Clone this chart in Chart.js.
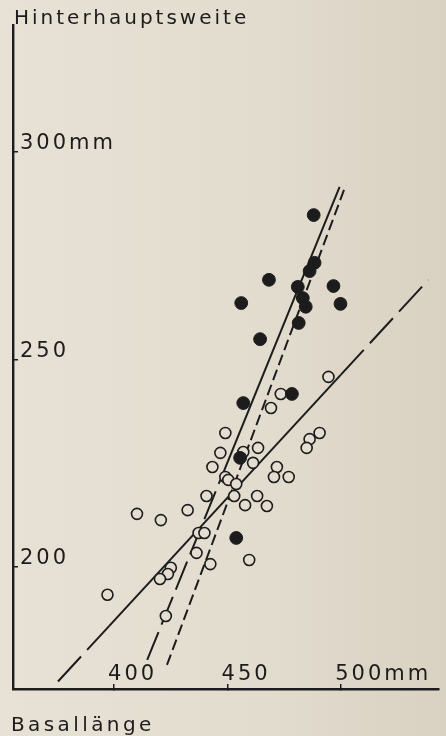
<!DOCTYPE html>
<html>
<head>
<meta charset="utf-8">
<script src="https://cdn.jsdelivr.net/npm/chart.js@4.4.1/dist/chart.umd.min.js"></script>
<style>
html, body { margin: 0; padding: 0; }
body {
    width: 446px; height: 736px; position: relative; overflow: hidden;
    background: linear-gradient(90deg, #e8e2d6 0%, #e2dccf 60%, #d9d1c1 100%);
}
#chart { position: absolute; left: 0; top: 0; }
.lbl {
    position: absolute; font-family: "DejaVu Sans", sans-serif; font-size: 20px;
    letter-spacing: 3px; color: #1c1c1c; line-height: 20px; white-space: nowrap;
}
</style>
</head>
<body>
<canvas id="chart" width="446" height="736"></canvas>
<div class="lbl" style="left:14px; top:7px">Hinterhauptsweite</div>
<div class="lbl" style="left:11px; top:714px; letter-spacing:3.4px">Basallänge</div>
<script>
// Werte (mm)
const xTicks = [400, 450, 500];
const yTicks = [200, 250, 300];

// gefüllte Kreise
const filledX = [487.9, 488.3, 486.1, 468.2, 456.0, 480.9, 483.1, 484.4, 496.6, 499.7, 481.3, 464.3, 478.3, 456.9, 455.5, 453.8];
const filledY = [284.8, 273.3, 271.3, 269.2, 263.6, 267.5, 264.8, 262.7, 267.7, 263.4, 258.8, 254.9, 241.7, 239.5, 226.3, 207.0];

// offene Kreise
const openX = [494.4, 473.4, 469.1, 449.0, 490.5, 486.1, 484.8, 463.4, 446.8, 456.9, 461.2, 443.3, 471.7, 449.0, 450.3, 470.4, 476.9, 453.8,
               452.9, 440.7, 463.0, 457.7, 467.3, 432.4, 410.1, 420.6, 437.2, 439.8, 436.3, 442.4, 459.5, 425.0, 423.7, 420.2, 397.1, 422.8];
const openY = [245.8, 241.7, 238.3, 232.3, 232.3, 230.8, 228.7, 228.7, 227.5, 227.7, 225.1, 224.1, 224.1, 221.7, 221.0, 221.7, 221.7, 220.0,
               217.1, 217.1, 217.1, 214.9, 214.7, 213.7, 212.8, 211.3, 208.2, 208.2, 203.4, 200.7, 201.7, 199.8, 198.3, 197.1, 193.3, 188.2];

// Geraden: Endpunkte und Grenzen des ausgezogenen Teils
const lineAX = [375.3, 397.9, 499.8, 538.4];
const lineAY = [172.4, 185.8, 246.3, 269.2];
const lineBX = [414.6, 446.8, 499.3];
const lineBY = [177.6, 221.0, 291.6];
const lineCX = [423.3, 501.4];
const lineCY = [176.4, 291.1];

const ink = '#1c1c1c';
const paper = '#e4ded2';

function pts(xs, ys) {
    return xs.map((x, i) => ({ x: x, y: ys[i] }));
}

const spacing = {
    id: 'spacing',
    beforeDraw(chart) { chart.ctx.letterSpacing = '3px'; }
};

new Chart(document.getElementById('chart'), {
    data: {
        datasets: [
            {
                type: 'scatter', data: pts(filledX, filledY),
                pointRadius: 6.4, pointBorderWidth: 1, pointBackgroundColor: ink, pointBorderColor: ink
            },
            {
                type: 'scatter', data: pts(openX, openY),
                pointRadius: 5.5, pointBorderWidth: 1.6, pointBackgroundColor: paper, pointBorderColor: ink
            },
            {
                type: 'line', data: pts(lineAX, lineAY),
                borderColor: ink, borderWidth: 2, pointRadius: 0, tension: 0,
                segment: { borderDash: ctx => ctx.p0DataIndex === 1 ? [] : [34, 9] }
            },
            {
                type: 'line', data: pts(lineBX, lineBY),
                borderColor: ink, borderWidth: 2, pointRadius: 0, tension: 0,
                segment: { borderDash: ctx => ctx.p0DataIndex === 0 ? [30, 8] : [] }
            },
            {
                type: 'line', data: pts(lineCX, lineCY),
                borderColor: ink, borderWidth: 2, pointRadius: 0, tension: 0,
                borderDash: [11, 5]
            }
        ]
    },
    options: {
        responsive: false,
        animation: false,
        events: [],
        layout: { padding: { left: 13, right: 4, top: 25, bottom: 47 } },
        plugins: { legend: { display: false }, tooltip: { enabled: false } },
        scales: {
            x: {
                type: 'linear', position: 'bottom', min: 355.5, max: 542.9,
                afterFit: s => { s.height = 0; },
                afterBuildTicks: s => { s.ticks = xTicks.map(v => ({ value: v })); },
                border: { display: true, color: ink, width: 2.4 },
                grid: { drawOnChartArea: false, drawTicks: true, tickLength: -5, color: ink, lineWidth: 1.5 },
                ticks: {
                    mirror: true, align: 'start', padding: 2, labelOffset: -6,
                    autoSkip: false, maxRotation: 0, color: ink,
                    font: { family: 'DejaVu Sans', size: 21 },
                    callback: v => v === 500 ? v + 'mm' : String(v)
                }
            },
            y: {
                type: 'linear', position: 'left', min: 170.6, max: 330.6,
                afterFit: s => { s.width = 0; },
                afterBuildTicks: s => { s.ticks = yTicks.map(v => ({ value: v })); },
                border: { display: true, color: ink, width: 2.4 },
                grid: { drawOnChartArea: false, drawTicks: true, tickLength: -5, color: ink, lineWidth: 1.5 },
                ticks: {
                    mirror: true, padding: 7, labelOffset: -8,
                    autoSkip: false, color: ink,
                    font: { family: 'DejaVu Sans', size: 21 },
                    callback: v => v === 300 ? v + 'mm' : String(v)
                }
            }
        }
    },
    plugins: [spacing]
});
</script>
</body>
</html>
